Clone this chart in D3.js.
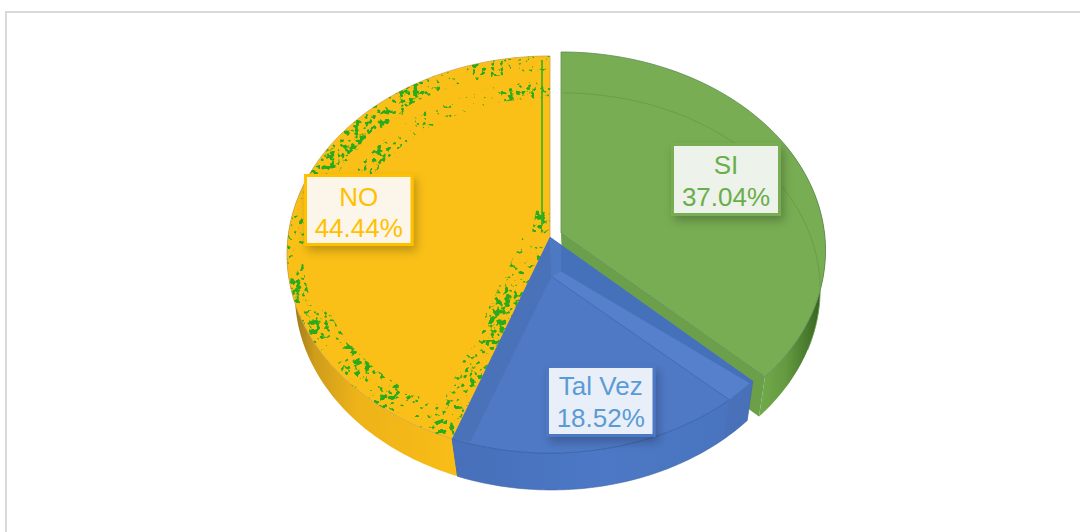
<!DOCTYPE html>
<html><head><meta charset="utf-8">
<style>html,body{margin:0;padding:0;background:#fff;overflow:hidden}svg{display:block}</style>
<script src="https://cdn.jsdelivr.net/npm/d3@7/dist/d3.min.js"></script>
</head><body><div id="c"></div>
<script>
const categories = ["SI", "Tal Vez", "NO"];
const values = [37.04, 18.52, 44.44];
const valueLabels = ["37.04%", "18.52%", "44.44%"];

const W = 1080, H = 532;
const svg = d3.select("#c").append("svg").attr("width", W).attr("height", H);
const defs = svg.append("defs");

// Perspective projection of the pie disc (top face and bottom face)
const topFace = {cx: 550, cy: 237, R: 262, S: 197, k: 0.0882};
const botFace = {cx: 551.5, cy: 279.5, R: 256, S: 195.5, k: 0.071};
const topFaceSI = {...topFace, R: 263.5};
const botFaceSI = {...botFace, R: 257};
function project(face, a, r = 1, off = [0, 0]) {
  const u = Math.sin(a) * r, v = -Math.cos(a) * r, w = 1 - face.k * v;
  return [face.cx + off[0] + face.R * u / w, face.cy + off[1] + face.S * v / w];
}
const line = d3.line();
const arcPts = (face, a0, a1, off, r = 1) =>
  d3.range(0, 81).map(i => project(face, a0 + (a1 - a0) * i / 80, r, off));
const closed = pts => line(pts) + "Z";
const arcs = d3.pie().sort(null).value(d => d)(values);
const [aSI, aTV, aNO] = arcs;

const grad = (id, stops, x1, x2) => {
  const g = defs.append("linearGradient").attr("id", id).attr("gradientUnits", "userSpaceOnUse")
    .attr("x1", x1).attr("x2", x2).attr("y1", 0).attr("y2", 0);
  stops.forEach(s => g.append("stop").attr("offset", s[0]).attr("stop-color", s[1]));
};
grad("gSide", [[0, "#70aa4a"], [0.4, "#659a40"], [0.8, "#44742a"], [1, "#33591d"]], 760, 824);
grad("ySide", [[0, "#98751f"], [0.14, "#cf9d1b"], [0.4, "#edb318"], [1, "#f9bd17"]], 292, 455);
grad("bSide", [[0, "#476fba"], [0.5, "#4c78c5"], [1, "#4973bd"]], 455, 750);

const sh = defs.append("filter").attr("id", "shadow").attr("x", "-20%").attr("y", "-20%").attr("width", "150%").attr("height", "160%");
sh.append("feDropShadow").attr("dx", 3).attr("dy", 5).attr("stdDeviation", 5)
  .attr("flood-color", "#000").attr("flood-opacity", 0.24);

// Compression-artefact texture on the NO slice: fine grain modulated by patchy low-frequency noise
const opaque = "1 0 0 0 0  0 1 0 0 0  0 0 1 0 0  0 0 0 0 1";
const speckFilter = (id, seed, freq, gain, bias) => {
  const sp = defs.append("filter").attr("id", id).attr("filterUnits", "userSpaceOnUse")
    .attr("x", 270).attr("y", 40).attr("width", 300).attr("height", 420)
    .attr("color-interpolation-filters", "sRGB");
  sp.append("feTurbulence").attr("type", "fractalNoise").attr("baseFrequency", freq).attr("numOctaves", 2).attr("seed", seed);
  sp.append("feColorMatrix").attr("type", "matrix").attr("values", opaque).attr("result", "fine");
  sp.append("feTurbulence").attr("type", "fractalNoise").attr("baseFrequency", 0.035).attr("numOctaves", 1).attr("seed", seed + 4);
  sp.append("feColorMatrix").attr("type", "matrix").attr("values", opaque).attr("result", "patch");
  sp.append("feComposite").attr("in", "fine").attr("in2", "patch").attr("operator", "arithmetic")
    .attr("k1", 0).attr("k2", 0.62).attr("k3", 0.38).attr("k4", 0).attr("result", "n");
  sp.append("feColorMatrix").attr("in", "n").attr("type", "matrix")
    .attr("values", `0 0 0 0 0.16  0 0 0 0 0.67  0 0 0 0 0.11  ${gain} 0 0 0 ${bias}`).attr("result", "m");
  sp.append("feComposite").attr("in", "m").attr("in2", "SourceAlpha").attr("operator", "in");
};
speckFilter("speck", 11, 0.2, 18, -9.9);
speckFilter("speckThin", 23, 0.22, 18, -10.2);
defs.append("clipPath").attr("id", "noClip").append("path")
  .attr("d", closed([[topFace.cx, topFace.cy], ...arcPts(topFace, aNO.startAngle, aNO.endAngle)]));

// Frame
svg.append("rect").attr("x", 5).attr("y", 11).attr("width", 2).attr("height", H - 11).attr("fill", "#d9d9d9");
svg.append("rect").attr("x", 5).attr("y", 11).attr("width", W - 5).attr("height", 2).attr("fill", "#d9d9d9");

// SI slice, pulled out
const off = [11, -4];
const gApexT = [topFace.cx + off[0], topFace.cy + off[1]];
const gApexB = [botFace.cx + off[0], botFace.cy + off[1]];
const gCornerT = project(topFaceSI, aSI.endAngle, 1, off), gCornerB = project(botFaceSI, aSI.endAngle, 1, off);
svg.append("path").attr("d", closed([gApexT, gCornerT, gCornerB, gApexB])).attr("fill", "#6c9f49");
svg.append("path").attr("d", closed([...arcPts(topFaceSI, 1.1, aSI.endAngle, off), ...arcPts(botFaceSI, aSI.endAngle, 1.1, off)]))
  .attr("fill", "url(#gSide)");
svg.append("path").attr("d", closed([gApexT, ...arcPts(topFaceSI, aSI.startAngle, aSI.endAngle, off)]))
  .attr("fill", "#78ad53").attr("stroke", "#5f8a55").attr("stroke-width", 0.8);
svg.append("path").attr("d", line(arcPts(botFaceSI, aSI.startAngle, 1.95, off))).attr("fill", "none").attr("stroke", "#659a48").attr("stroke-width", 0.8);

// NO slice
svg.append("path").attr("d", closed([...arcPts(topFace, aNO.startAngle, 5.1), ...arcPts(botFace, 5.1, aNO.startAngle)]))
  .attr("fill", "url(#ySide)");
svg.append("path").attr("d", closed([[topFace.cx, topFace.cy], ...arcPts(topFace, aNO.startAngle, aNO.endAngle)]))
  .attr("fill", "#fac017").attr("stroke", "#cfa24e").attr("stroke-width", 0.8);
const clipG = svg.append("g").attr("clip-path", "url(#noClip)");
const speck = clipG.append("g").attr("filter", "url(#speck)").attr("fill", "none").attr("stroke", "#000");
speck.append("path").attr("d", line(arcPts(topFace, aNO.startAngle, 4.3, [0, 0], 0.95))).attr("stroke-width", 30);
speck.append("path").attr("d", line(arcPts(topFace, 4.3, 4.75, [0, 0], 0.97))).attr("stroke-width", 16);
speck.append("path").attr("d", line(arcPts(topFace, 4.75, 5.6, [0, 0], 0.95))).attr("stroke-width", 24);
speck.append("path").attr("d", line([project(topFace, aNO.startAngle, 0.98, [-10, -3]), project(topFace, aNO.startAngle, 0.05, [-10, -3])])).attr("stroke-width", 28);
speck.append("path").attr("d", line([[topFace.cx - 6, topFace.cy - 25], [topFace.cx - 10, topFace.cy - 4]])).attr("stroke-width", 16);
const thin = clipG.append("g").attr("filter", "url(#speckThin)").attr("fill", "none").attr("stroke", "#000");
thin.append("path").attr("d", line(arcPts(topFace, 5.6, aNO.endAngle, [0, 0], 0.96))).attr("stroke-width", 18);
thin.append("path").attr("d", line(arcPts(topFace, 5.1, aNO.endAngle, [0, 0], 0.8))).attr("stroke-width", 16);
svg.append("line").attr("x1", 542).attr("x2", 542).attr("y1", 60).attr("y2", 226).attr("stroke", "#35b021").attr("stroke-width", 1.6);

// Tal Vez slice, translucent so its walls show through
const bApexT = [topFace.cx, topFace.cy], bApexB = [botFace.cx, botFace.cy - 3];
const bCornerT = project(topFace, aTV.startAngle), bJointT = project(topFace, aTV.endAngle);
const bCornerB = project(botFace, aTV.startAngle), bJointB = project(botFace, aTV.endAngle);
const aMid = 2.45;
svg.append("path").attr("d", closed([...arcPts(topFace, aTV.startAngle, aTV.endAngle), ...arcPts(botFace, aTV.endAngle, aTV.startAngle)]))
  .attr("fill", "url(#bSide)").attr("stroke", "#3d63a6").attr("stroke-width", 0.6);
svg.append("path").attr("d", closed([bApexT, ...arcPts(topFace, aTV.startAngle, aTV.endAngle)])).attr("fill", "#4f79c5");
svg.append("path").attr("d", closed([bApexT, bJointT, [bJointT[0] + 18, bJointT[1] + 3], bApexB])).attr("fill", "#4a72b9");
svg.append("path").attr("d", closed([bApexT, bCornerT, project(topFace, aMid), bApexB])).attr("fill", "#5680cb");
svg.append("path").attr("d", closed([bApexT, bCornerT, [bCornerT[0] - 2, bCornerT[1] + 3], [gApexT[0], bApexB[1] - 5], [gApexT[0], bApexT[1] + 8]])).attr("fill", "#4570ba");
svg.append("path").attr("d", closed([bApexT, [gApexT[0], bApexT[1] + 8], [gApexT[0], bApexB[1] - 5], bApexB])).attr("fill", "#4d79c3");
svg.append("path").attr("d", closed([bCornerT, bCornerB, project(botFace, aMid), project(topFace, aMid)])).attr("fill", "#4770b6").attr("opacity", 0.55);
svg.append("path").attr("d", line([bApexB, project(topFace, aMid)])).attr("fill", "none").attr("stroke", "#3f68ae").attr("stroke-width", 0.8);
svg.append("path").attr("d", line(arcPts(topFace, aMid, aTV.endAngle))).attr("fill", "none").attr("stroke", "#3d66ad").attr("stroke-width", 1);
svg.append("path").attr("d", line([bJointT, bJointB])).attr("fill", "none").attr("stroke", "#4a6fae").attr("stroke-width", 1);

// Labels
const labelColors = ["#6aae4c", "#5b9bd5", "#ffc000"];
const labelStroke = ["#78ad53", "#4d78c6", "#ffc000"];
const labelFill = ["#edf2ea", "#e9eff8", "#fbf6e9"];
const labelBoxes = [[672.5, 144.5, 107, 70], [547.5, 366.5, 106.5, 69], [305.5, 175.5, 106.5, 69]];
const labelBaselines = [[174, 206], [395, 427], [206, 237]];
categories.forEach((c, i) => {
  const [x, y, w, h] = labelBoxes[i];
  const g = svg.append("g");
  g.append("rect").attr("x", x).attr("y", y).attr("width", w).attr("height", h)
    .attr("fill", labelFill[i]).attr("stroke", labelStroke[i]).attr("stroke-width", 3).attr("filter", "url(#shadow)");
  const t = g.append("text").attr("text-anchor", "middle").attr("fill", labelColors[i])
    .attr("font-family", "'Liberation Sans', Arial, sans-serif").attr("font-size", 26);
  t.append("tspan").attr("x", x + w / 2).attr("y", labelBaselines[i][0]).text(c);
  t.append("tspan").attr("x", x + w / 2).attr("y", labelBaselines[i][1]).text(valueLabels[i]);
});
</script></body></html>
